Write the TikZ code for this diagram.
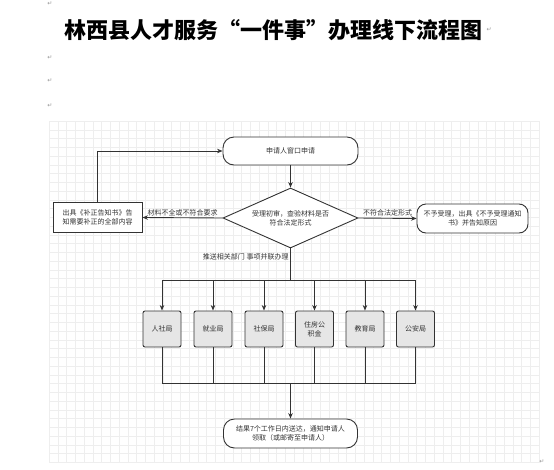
\documentclass[tikz,border=0pt]{standalone}
\usepackage{fontspec}
\usepackage{xcolor}
\usepackage{tikz}
\usetikzlibrary{shapes.geometric, arrows.meta, positioning, calc}
\newfontfamily\cjk{Noto Sans CJK SC}
\newfontfamily\retfont{DejaVu Sans}
\definecolor{FlowInk}{RGB}{51, 51, 51}
\definecolor{FlowGrid}{RGB}{238, 238, 238}
\definecolor{DeptFill}{RGB}{230, 230, 230}
\definecolor{RetGray}{RGB}{150, 150, 150}
\tikzset{
  every node/.style={font=\cjk\fontsize{7}{9}\selectfont, text=FlowInk},
  gridline/.style={draw=FlowGrid, line width=0.4pt},
  flowline/.style={draw=FlowInk, line width=0.9pt},
  flow/.style={flowline, -{Stealth[length=5.5pt, width=4.5pt]}},
  terminal/.style={draw=FlowInk, line width=0.9pt, fill=white, rounded corners=11pt,
    minimum width=135pt, minimum height=28pt, align=center, inner sep=1pt},
  decision/.style={draw=FlowInk, line width=0.9pt, fill=white, diamond, aspect=2.25,
    minimum width=135pt, minimum height=60pt, align=center, inner sep=0pt},
  notebox/.style={draw=FlowInk, line width=0.9pt, fill=white,
    minimum width=89pt, minimum height=30pt, align=center, inner sep=1pt},
  deptbox/.style={draw=FlowInk, line width=0.9pt, fill=DeptFill, rounded corners=2pt,
    minimum width=38pt, minimum height=36pt, align=center, inner sep=1pt},
  edgelabel/.style={inner sep=1.5pt},
  retmark/.style={font=\retfont\fontsize{6}{6}\selectfont, text=RetGray, inner sep=0pt}
}

\begin{document}
\begin{tikzpicture}[x=1pt, y=-1pt]
    \useasboundingbox[fill=white] (0,0) rectangle (554,469);

    \foreach \gx in {49,57.75,...,541}
      \draw[gridline] (\gx,121) -- (\gx,463);
    \foreach \gy in {121,129.75,...,464}
      \draw[gridline] (49,\gy) -- (540,\gy);

    \node[font=\cjk\bfseries\fontsize{22}{24}\selectfont, text=black] (title) at (273,30)
      {林西县人才服务“一件事”办理线下流程图};
    \node[retmark, right=1pt of title.east] (ret0) {↵};
    \foreach \ry [count=\ri] in {4,58,81,106}
      \node[retmark] (ret\ri) at (50,\ry) {↵};
    \node[retmark] (ret5) at (542,462) {↵};

    \node[terminal] (apply) at (290.5,151) {申请人窗口申请};
    \node[decision] (check) at (290.5,218) {受理初审，查验材料是否\\符合法定形式};
    \node[notebox] (amend) at (97.5,217.5) {出具《补正告知书》告\\知需要补正的全部内容};
    \node[terminal, minimum width=111pt, minimum height=29pt, rounded corners=9pt] (reject)
      at (472.5,218.5) {不予受理，出具《不予受理通知\\书》并告知原因};

    \coordinate (fork) at (290.5,280);
    \coordinate (join) at (290.5,383);
    \foreach \dx/\dname [count=\di] in {162/人社局, 213/就业局, 264/社保局,
                                         314.5/{住房公\\积金}, 365/教育局, 415.5/公安局}
      \node[deptbox] (dept\di) at (\dx,329) {\dname};

    \node[terminal, minimum width=134pt, minimum height=29pt] (result) at (290.5,433.5)
      {结果7个工作日内送达，通知申请人\\领取（或邮寄至申请人）};

    \draw[flow] (apply) -- (check);
    \draw[flow] (check.west) -- node[above, edgelabel] {材料不全或不符合要求} (amend.east);
    \draw[flow] (check.east) -- node[above, edgelabel] {不符合法定形式} (reject.west);
    \draw[flow] (amend.north) |- (apply.west);
    \draw[flowline] (check.south) -- node[left, pos=0.28, edgelabel] {推送相关部门 事项并联办理} (fork);
    \draw[flowline] (dept1 |- fork) -- (dept6 |- fork);
    \foreach \di in {1,...,6} {
      \draw[flow] (dept\di |- fork) -- (dept\di.north);
      \draw[flowline] (dept\di.south) -- (dept\di |- join);
    }
    \draw[flowline] (dept1 |- join) -- (dept6 |- join);
    \draw[flow] (join) -- (result.north);
  \end{tikzpicture}
\end{document}
